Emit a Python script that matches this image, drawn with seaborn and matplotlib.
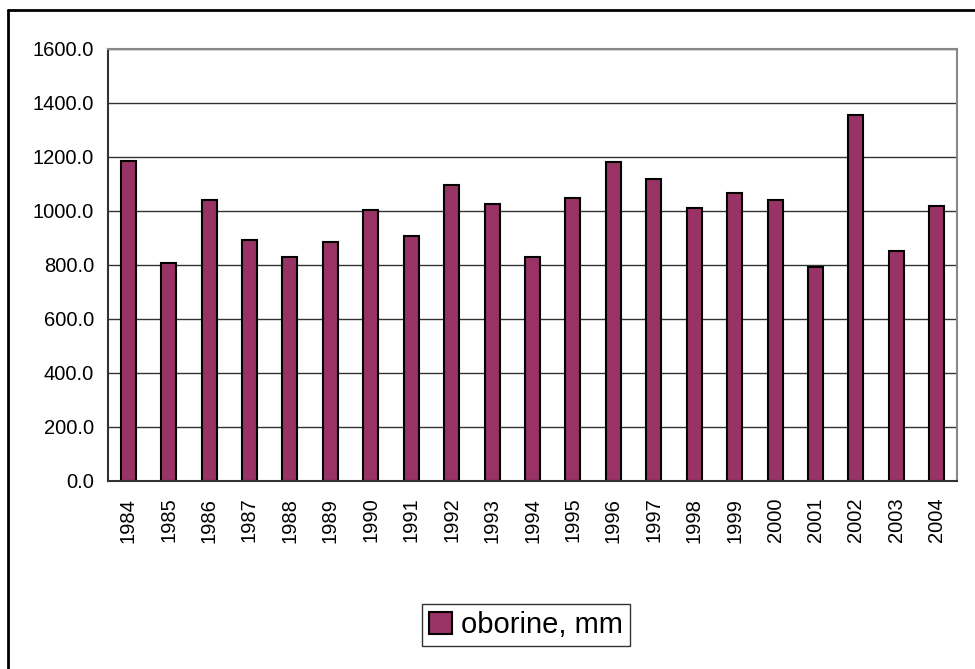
import matplotlib
matplotlib.use("Agg")
import matplotlib.pyplot as plt
from matplotlib.lines import Line2D
from matplotlib.ticker import FormatStrFormatter
import numpy as np
import pandas as pd
import seaborn as sns

years = ["1984", "1985", "1986", "1987", "1988", "1989", "1990", "1991", "1992", "1993", "1994",
         "1995", "1996", "1997", "1998", "1999", "2000", "2001", "2002", "2003", "2004"]
oborine = [1186, 809, 1040, 893, 830, 886, 1004, 907, 1096, 1027, 830,
           1047, 1180, 1117, 1012, 1068, 1041, 794, 1356, 851, 1020]
series_label = "oborine, mm"
y_ticks = [0, 200, 400, 600, 800, 1000, 1200, 1400, 1600]

sns.set_style("white")
plt.rcParams["font.family"] = ["Liberation Sans", "DejaVu Sans"]
plt.rcParams["text.color"] = "black"
plt.rcParams["xtick.labelcolor"] = "black"
plt.rcParams["ytick.labelcolor"] = "black"

df = pd.DataFrame({"year": years, "value": oborine})

fig = plt.figure(figsize=(9.75, 6.69), dpi=100)
ax = fig.add_axes([108 / 975, 1 - 481 / 669, (957 - 108) / 975, (481 - 49) / 669])

sns.barplot(data=df, x="year", y="value", color="#993366", edgecolor="black",
            linewidth=1.5, width=0.37, saturation=1, ax=ax, label=series_label)

ax.set_xlim(-0.5, len(years) - 0.5)
ax.set_ylim(0, 1600)
ax.set_yticks(y_ticks)
ax.yaxis.set_major_formatter(FormatStrFormatter("%.1f"))
ax.yaxis.grid(True, color="#333333", linewidth=1.0)
ax.set_axisbelow(True)
ax.set_xlabel("")
ax.set_ylabel("")

ax.set_xticks(np.arange(-0.5, len(years), 1), minor=True)
ax.tick_params(axis="x", which="major", length=0, pad=12, labelsize=14.5, labelrotation=90,
               labelcolor="black")
ax.tick_params(axis="x", which="minor", length=6, width=1, color="#333333", direction="out")
ax.tick_params(axis="y", length=6, width=1, color="#333333", direction="out", labelsize=14.5,
               pad=4, labelcolor="black")

for side in ["left", "bottom"]:
    ax.spines[side].set_color("#333333")
    ax.spines[side].set_linewidth(1.5)
for side in ["top", "right"]:
    ax.spines[side].set_visible(True)
    ax.spines[side].set_color("#888888")
    ax.spines[side].set_linewidth(1.5)

leg = ax.legend(loc="center", bbox_to_anchor=(526 / 975, 1 - 625 / 669),
                bbox_transform=fig.transFigure, fontsize=21, frameon=True, fancybox=False,
                edgecolor="black", handlelength=0.8, handleheight=0.8, handletextpad=0.3,
                borderpad=0.25, borderaxespad=0)
leg.get_frame().set_linewidth(1.0)
for t in leg.get_texts():
    t.set_color("black")

# outer chart border (top and left edges visible)
fig.add_artist(Line2D([8 / 975, 1.0], [1 - 10 / 669, 1 - 10 / 669], transform=fig.transFigure,
                      color="black", linewidth=2))
fig.add_artist(Line2D([8 / 975, 8 / 975], [0.0, 1 - 10 / 669], transform=fig.transFigure,
                      color="black", linewidth=2))

fig.savefig("out.png", dpi=100)
